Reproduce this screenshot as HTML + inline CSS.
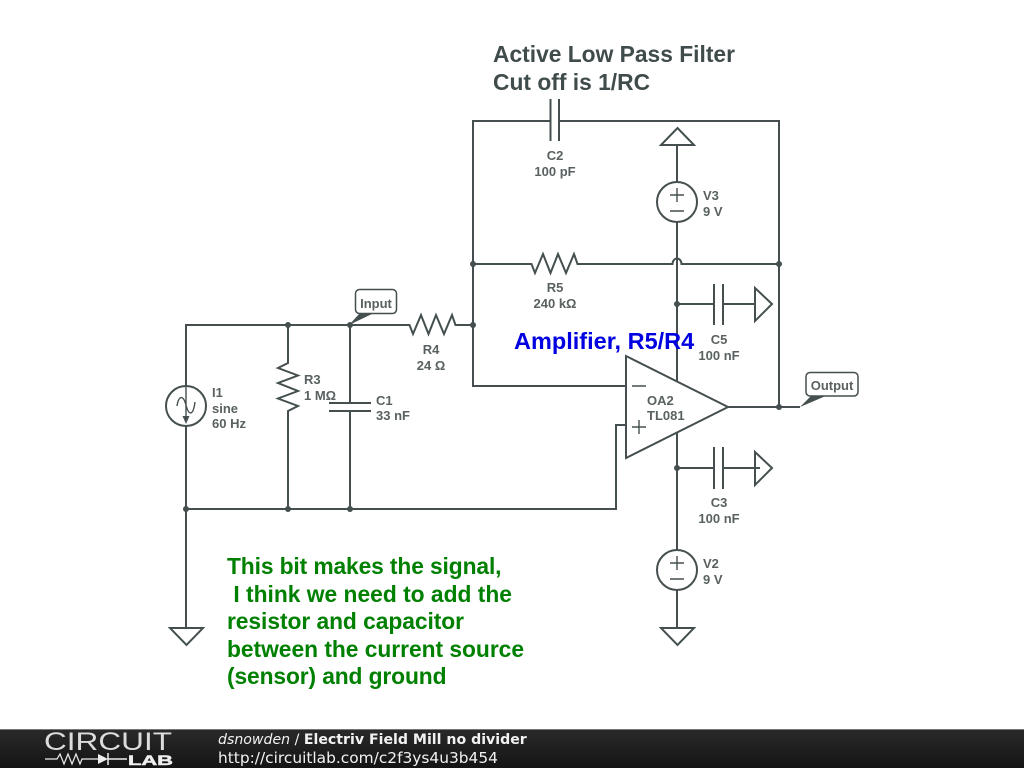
<!DOCTYPE html>
<html><head><meta charset="utf-8"><style>
html,body{margin:0;padding:0;background:#fff;width:1024px;height:768px;overflow:hidden}
svg{display:block}
.w{fill:none;stroke:#454f4f;stroke-width:2}
.t{font-family:"Liberation Sans",sans-serif;font-size:13px;font-weight:bold;fill:#5a6161}
.m{text-anchor:middle}
.h{font-family:"Liberation Sans",sans-serif;font-size:22.8px;font-weight:bold}
.g{fill:#008000}
.f{font-family:"DejaVu Sans",sans-serif;fill:#f2f2f2}
</style></head><body>
<svg width="1024" height="768" viewBox="0 0 1024 768" xmlns="http://www.w3.org/2000/svg">
<defs><linearGradient id="bg" x1="0" y1="0" x2="0" y2="1"><stop offset="0" stop-color="#2a2a2a"/><stop offset="1" stop-color="#141414"/></linearGradient></defs>
<rect width="1024" height="768" fill="#fff"/>

<!-- wires -->
<path class="w" d="M550 121H473V386H626M559 121H779V407"/>
<path class="w" d="M473 264H531.500L535 273L543 254L550.500 273L558 254L566 273L574 254L577.500 264H672.500A4.500 5.500 0 0 1 681.500 264H779"/>
<path class="w" d="M186 386V325H409.500L413 334L421 315L428.500 334L436 315L444 334L452 315L455.500 325H473"/>
<path class="w" d="M288 325V363L278 368L298 375.500L278 383L298 391L278 398.500L298 406L288 411V509"/>
<path class="w" d="M350 325V403M350 411V509M329 403H371M329 411H371"/>
<path class="w" d="M186 426V628M186 509H616V425H626"/>
<path class="w" d="M170 628H203L186.500 645Z"/>
<path class="w" d="M677 145V182M677 222V381M677 433V550M677 590V628"/>
<path class="w" d="M661 145H694L677.500 128Z"/>
<path class="w" d="M661 628H694L677.500 645Z"/>

<!-- C2 -->
<path class="w" d="M550.500 99V141M559 99V141"/>

<!-- C5 -->
<path class="w" d="M677 304H714M723 304H755M714 284V325M723 284V325"/>
<path class="w" d="M755 288L772 304L755 321Z"/>
<!-- C3 -->
<path class="w" d="M677 468H714M723 468H760M714 447V489M723 447V489"/>
<path class="w" d="M755 452L772 468L755 485Z"/>

<!-- op amp -->
<path d="M626 356L728 407L626 458Z" fill="#fff" stroke="#454f4f" stroke-width="2"/>
<path class="w" d="M632 386H646M632 427H646M639 420V434" style="stroke-width:1.400"/>
<path class="w" d="M728 407H800"/>

<!-- sources -->
<circle class="w" cx="186" cy="406" r="20"/>
<path class="w" style="stroke-width:1.400" d="M177 406C178.500 396 183 394 186 405C188.500 415 193 417 195 402M186 386V420"/>
<path d="M182.500 416H189.500L186 424Z" fill="#454f4f"/>
<circle class="w" cx="677" cy="202" r="20"/>
<path class="w" style="stroke-width:1.400" d="M670 195H684M677 188V202M670 211H684"/>
<circle class="w" cx="677" cy="570" r="20"/>
<path class="w" style="stroke-width:1.400" d="M670 563H684M677 556V570M670 579H684"/>

<!-- nodes -->
<g fill="#454f4f">
<circle cx="288" cy="325" r="3"/><circle cx="350" cy="325" r="3"/><circle cx="473" cy="325" r="3"/>
<circle cx="473" cy="264" r="3"/><circle cx="779" cy="264" r="3"/><circle cx="677" cy="304" r="3"/>
<circle cx="677" cy="468" r="3"/><circle cx="779" cy="407" r="3"/>
<circle cx="186" cy="509" r="3"/><circle cx="288" cy="509" r="3"/><circle cx="350" cy="509" r="3"/>
</g>

<!-- tags -->
<path d="M349 325L360 313H374Z" fill="#454f4f"/>
<rect x="355.500" y="289.500" width="41" height="24" rx="4" fill="#fff" stroke="#454f4f" stroke-width="1.500"/>
<path d="M800 407L812 395H828Z" fill="#454f4f"/>
<rect x="806" y="372.500" width="52" height="23.500" rx="4" fill="#fff" stroke="#454f4f" stroke-width="1.500"/>
<text class="t m" x="376" y="308">Input</text>
<text class="t m" x="832" y="390">Output</text>

<!-- labels -->
<text class="t" x="212" y="397">I1</text><text class="t" x="212" y="413">sine</text><text class="t" x="212" y="428">60 Hz</text>
<text class="t" x="304" y="384">R3</text><text class="t" x="304" y="400">1 MΩ</text>
<text class="t" x="376" y="405">C1</text><text class="t" x="376" y="420">33 nF</text>
<text class="t m" x="431" y="354">R4</text><text class="t m" x="431" y="370">24 Ω</text>
<text class="t m" x="555" y="160">C2</text><text class="t m" x="555" y="176">100 pF</text>
<text class="t m" x="555" y="292">R5</text><text class="t m" x="555" y="308">240 kΩ</text>
<text class="t m" x="719" y="344">C5</text><text class="t m" x="719" y="360">100 nF</text>
<text class="t" x="647" y="405">OA2</text><text class="t" x="647" y="420">TL081</text>
<text class="t" x="703" y="200">V3</text><text class="t" x="703" y="216">9 V</text>
<text class="t m" x="719" y="507">C3</text><text class="t m" x="719" y="523">100 nF</text>
<text class="t" x="703" y="568">V2</text><text class="t" x="703" y="584">9 V</text>

<!-- annotations -->
<text class="h" x="493" y="62" fill="#404b4b">Active Low Pass Filter</text>
<text class="h" x="493" y="90" fill="#404b4b">Cut off is 1/RC</text>
<text class="h" x="514" y="349" fill="#0000e0" style="font-size:23.500px">Amplifier, R5/R4</text>
<text class="h g" x="227" y="574" textLength="274.500">This bit makes the signal,</text>
<text class="h g" x="227" y="602" xml:space="preserve"> I think we need to add the</text>
<text class="h g" x="227" y="629" textLength="237">resistor and capacitor</text>
<text class="h g" x="227" y="657" textLength="297">between the current source</text>
<text class="h g" x="227" y="684" textLength="219.500">(sensor) and ground</text>

<!-- footer -->
<rect x="0" y="729" width="1024" height="39" fill="url(#bg)"/>
<rect x="0" y="729" width="1024" height="1" fill="#777"/>
<text x="44" y="750" font-family="DejaVu Sans ExtraLight,Liberation Sans,sans-serif" font-size="25" textLength="128" lengthAdjust="spacingAndGlyphs" fill="#dcdcdc">CIRCUIT</text>
<path d="M45 759H57L60 754L64 764L68 754L72 764L76 754L80 764L82 759H98" fill="none" stroke="#eee" stroke-width="1.200"/>
<path d="M98 754L108 759L98 764Z" fill="#eee"/>
<path d="M108 753V765M108 759H127" fill="none" stroke="#eee" stroke-width="1.500"/>
<text x="128" y="765" font-family="Liberation Sans,sans-serif" font-size="14" font-weight="bold" textLength="45" lengthAdjust="spacingAndGlyphs" fill="#eee" stroke="#eee" stroke-width="0.500">LAB</text>
<text class="f" x="218" y="744" font-size="14.13"><tspan font-style="italic">dsnowden</tspan> / <tspan font-weight="bold">Electriv Field Mill no divider</tspan></text>
<text class="f" x="218" y="763" font-size="15.4">http://circuitlab.com/c2f3ys4u3b454</text>
</svg>
</body></html>
